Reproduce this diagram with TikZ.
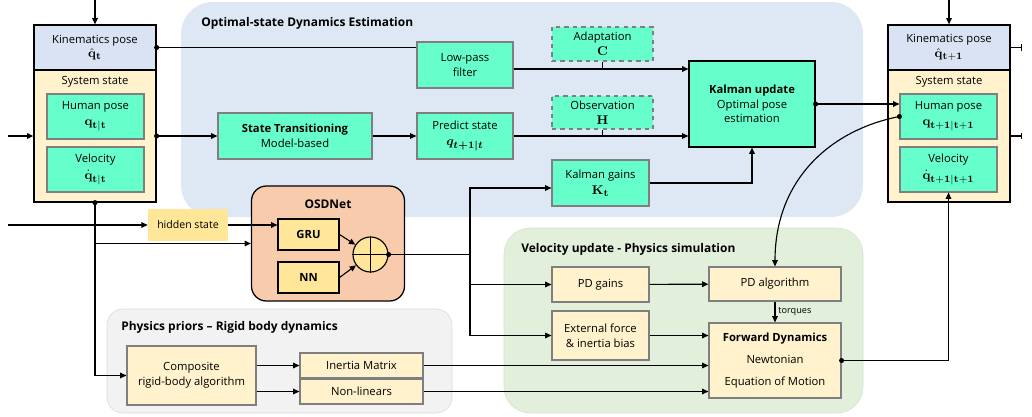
\documentclass[tikz,border=0pt]{standalone}
\usepackage{amsmath}
\usepackage[no-math]{fontspec}
\setmainfont{Open Sans}
\usetikzlibrary{arrows.meta}
\definecolor{poseGreen}{RGB}{102,255,204}
\definecolor{kinBlue}{RGB}{218,227,243}
\definecolor{stateCream}{RGB}{255,242,204}
\definecolor{osdPeach}{RGB}{248,203,173}
\definecolor{unitYellow}{RGB}{255,230,153}
\definecolor{edgeGrey}{RGB}{127,127,127}
\definecolor{estBlue}{RGB}{222,232,244}
\definecolor{simGreen}{RGB}{226,239,218}
\definecolor{simEdge}{RGB}{212,228,202}
\definecolor{priorGrey}{RGB}{242,242,242}
\definecolor{priorEdge}{RGB}{217,217,217}
\newcommand{\PoseSym}[1]{{\fontsize{9.5}{11}\selectfont$#1$}}

\begin{document}
\begin{tikzpicture}[x=0.025cm,y=-0.025cm,
  font=\fontsize{8}{10.5}\selectfont,
  >={Triangle[length=4.5pt,width=4pt]},
  link/.style={line width=0.8pt},
  poseBox/.style={draw=edgeGrey,fill=poseGreen,line width=0.8pt,align=center,inner sep=1pt},
  guessBox/.style={poseBox,dashed},
  creamBox/.style={draw=edgeGrey,fill=stateCream,line width=0.8pt,align=center,inner sep=1pt},
  unitBox/.style={draw=black,fill=unitYellow,line width=0.8pt,font=\fontsize{8}{10}\selectfont\bfseries},
  stackBox/.style={draw=black,line width=0.9pt,align=center,inner sep=1pt},
  regionTitle/.style={anchor=west,inner sep=0pt,font=\fontsize{8.5}{10}\selectfont\bfseries}]
\useasboundingbox (0,0) rectangle (1032,416);

% regions
\fill[estBlue,rounded corners=0.8cm] (181,2) rectangle (863,217);
\draw[simEdge,fill=simGreen,rounded corners=0.65cm] (504,228) rectangle (863,413);
\draw[priorEdge,fill=priorGrey,rounded corners=0.4cm] (107,309) rectangle (452,413);
\node[regionTitle] (estTitle) at (201,23) {Optimal-state Dynamics Estimation};
\node[regionTitle] (simTitle) at (521,249) {Velocity update - Physics simulation};
\node[regionTitle] (priorTitle) at (121,327) {Physics priors – Rigid body dynamics};

% state at t
\node[stackBox,fill=stateCream,minimum width=3.05cm,minimum height=3.3cm] (sysL) at (95,136) {};
\node[stackBox,fill=kinBlue,minimum width=3.05cm,minimum height=1.125cm] (kinL) at (95,47.5) {Kinematics pose\\\PoseSym{\hat{\mathbf{q}}_{\mathbf{t}}}};
\node (sysLTitle) at (95,82) {System state};
\node[poseBox,minimum width=2.425cm,minimum height=1.125cm] (humL) at (95.5,116.5) {Human pose\\[1pt]\PoseSym{\mathbf{q}_{\mathbf{t|t}}}};
\node[poseBox,minimum width=2.425cm,minimum height=1.125cm] (velL) at (95.5,169.5) {Velocity\\[1pt]\PoseSym{\dot{\mathbf{q}}_{\mathbf{t|t}}}};

% state at t+1
\node[stackBox,fill=stateCream,minimum width=3.05cm,minimum height=3.3cm] (sysR) at (949,136) {};
\node[stackBox,fill=kinBlue,minimum width=3.05cm,minimum height=1.125cm] (kinR) at (949,47.5) {Kinematics pose\\\PoseSym{\hat{\mathbf{q}}_{\mathbf{t+1}}}};
\node (sysRTitle) at (949,82) {System state};
\node[poseBox,minimum width=2.425cm,minimum height=1.125cm] (humR) at (948.5,116.5) {Human pose\\[1pt]\PoseSym{\mathbf{q}_{\mathbf{t+1|t+1}}}};
\node[poseBox,minimum width=2.425cm,minimum height=1.125cm] (velR) at (948.5,169.5) {Velocity\\[1pt]\PoseSym{\dot{\mathbf{q}}_{\mathbf{t+1|t+1}}}};

% estimation
\node[poseBox,minimum width=2.4cm,minimum height=1.15cm] (lowPass) at (465,65) {Low-pass\\filter};
\node[poseBox,minimum width=3.85cm,minimum height=1.15cm] (stateTrans) at (295,136) {\textbf{State Transitioning}\\Model-based};
\node[poseBox,minimum width=2.4cm,minimum height=1.15cm] (predict) at (465,136) {Predict state\\[1pt]\PoseSym{\boldsymbol{q_{t+1|t}}}};
\node[guessBox,minimum width=2.525cm,minimum height=0.85cm] (adapt) at (602.5,44) {Adaptation\\\PoseSym{\mathbf{C}}};
\node[guessBox,minimum width=2.525cm,minimum height=0.825cm] (observ) at (602.5,112.5) {Observation\\\PoseSym{\mathbf{H}}};
\node[poseBox,minimum width=2.425cm,minimum height=1.15cm] (kGain) at (600.5,183) {Kalman gains\\[1pt]\PoseSym{\mathbf{K}_{\mathbf{t}}}};
\node[poseBox,draw=black,minimum width=3.15cm,minimum height=2.15cm] (kalman) at (752,104) {\textbf{Kalman update}\\Optimal pose\\estimation};

% OSDNet
\node[draw=black,fill=osdPeach,line width=0.9pt,rounded corners=0.375cm,minimum width=3.825cm,minimum height=2.875cm] (osd) at (328,243.5) {};
\node[font=\fontsize{8.5}{10}\selectfont\bfseries] (osdTitle) at (328,204) {OSDNet};
\node[unitBox,minimum width=1.525cm,minimum height=0.775cm] (gru) at (308.5,234.5) {GRU};
\node[unitBox,minimum width=1.525cm,minimum height=0.775cm] (nn) at (308.5,277.5) {NN};
\node[circle,draw=black,fill=unitYellow,line width=0.8pt,minimum size=0.875cm,inner sep=0pt] (sum) at (370.5,254.5) {};
\draw[link] (sum.north) -- (sum.south) (sum.west) -- (sum.east);
\node[fill=unitYellow,minimum width=2cm,minimum height=0.8cm,inner sep=0pt,font=\fontsize{7.5}{9}\selectfont] (hidden) at (188,225) {hidden state};

% physics priors
\node[creamBox,minimum width=3.225cm,minimum height=1.475cm] (composite) at (191.5,375.5) {Composite\\rigid-body algorithm};
\node[creamBox,minimum width=3.075cm,minimum height=0.625cm] (inertia) at (361.5,365.5) {Inertia Matrix};
\node[creamBox,minimum width=3.075cm,minimum height=0.625cm] (nonLin) at (361.5,391.5) {Non-linears};

% physics simulation
\node[creamBox,minimum width=2.425cm,minimum height=0.875cm] (pdGain) at (600.5,284.5) {PD gains};
\node[creamBox,minimum width=2.425cm,minimum height=1.225cm] (extForce) at (600.5,335.5) {External force\\\& inertia bias};
\node[creamBox,minimum width=3.3cm,minimum height=0.85cm] (pdAlg) at (775,284) {PD algorithm};
\node[creamBox,minimum width=3.3cm,minimum height=1.875cm] (fwdDyn) at (775,360.5) {\textbf{Forward Dynamics}\\[5pt]Newtonian\\[5pt]Equation of Motion};

% free ends
\coordinate (inTopL) at (95,0);
\coordinate (inTopR) at (949,0);
\coordinate (inSys) at (8,136);
\coordinate (inHidden) at (8,225);
\coordinate (outKin) at (1022,47.5);
\coordinate (outSys) at (1022,136);
\coordinate (adaptJoin) at (602.5,69);
\coordinate (trunk) at (470,254.5);
\coordinate (osdBranch) at (sysL.south |- osd.west);

% connectors
\draw[link,->] (inTopL) -- (kinL.north);
\draw[link,->] (inTopR) -- (kinR.north);
\draw[link,->] (inSys) -- (sysL.west);
\draw[link,->] (inHidden) -- (hidden.west);
\draw[link] (kinL.east) -- (kinL.east -| lowPass.west);
\draw[link,->] (sysL.east) -- (stateTrans.west);
\draw[link,->] (stateTrans) -- (predict);
\draw[link,->] (lowPass.east |- adaptJoin) -- (adaptJoin -| kalman.west);
\draw[link] (adapt.south) -- (adaptJoin);
\draw[link,->] (predict.east) -- (predict.east -| kalman.west);
\draw[link] (observ.south) -- (observ.south |- predict.east);
\draw[link,->] (kGain.east) -| (kalman.south);
\draw[link,->] (kalman.east) -- (kalman.east -| humR.west);
\draw[link,->] (humR.west) .. controls (830,130) and (775,180) .. (pdAlg.north);
\draw[link,-{Bar[width=4.5pt]}] (kinR.east) -- (outKin);
\draw[link,-{Bar[width=4.5pt]}] (sysR.east) -- (outSys);
\draw[link,->] (hidden.east) -- (hidden.east -| gru.west);
\draw[link,->] (sysL.south) |- (composite.west);
\draw[link,->] (osdBranch) -- (osd.west);
\draw[link,->] (gru.east) -- (sum);
\draw[link,->] (nn.east) -- (sum);
\draw[link] (sum.east) -- (trunk);
\draw[link,->] (trunk) |- ([yshift=-0.125cm]kGain.west);
\draw[link,->] (trunk) |- (pdGain.west);
\draw[link,->] (trunk) |- (extForce.west);
\draw[link,->] (pdGain) -- (pdAlg);
\draw[link,->] (pdAlg) -- node[right,font=\fontsize{6.5}{7.5}\selectfont,inner sep=2pt] (torqueLabel) {torques} (fwdDyn);
\draw[link,->] (extForce.east) -- (extForce.east -| fwdDyn.west);
\draw[link,->] (composite.east |- inertia.west) -- (inertia.west);
\draw[link,->] (composite.east |- nonLin.west) -- (nonLin.west);
\draw[link,->] (inertia.east) -- (inertia.east -| fwdDyn.west);
\draw[link,->] (nonLin.east) -- (nonLin.east -| fwdDyn.west);
\draw[link,->] (fwdDyn.east) -| (velR.south);

% junction dots
\foreach \p in {kinL.east,sysL.east,sysL.south,kalman.east,humR.west,sum.east,fwdDyn.east}
  \fill (\p) circle (1.8pt);
\end{tikzpicture}
\end{document}
